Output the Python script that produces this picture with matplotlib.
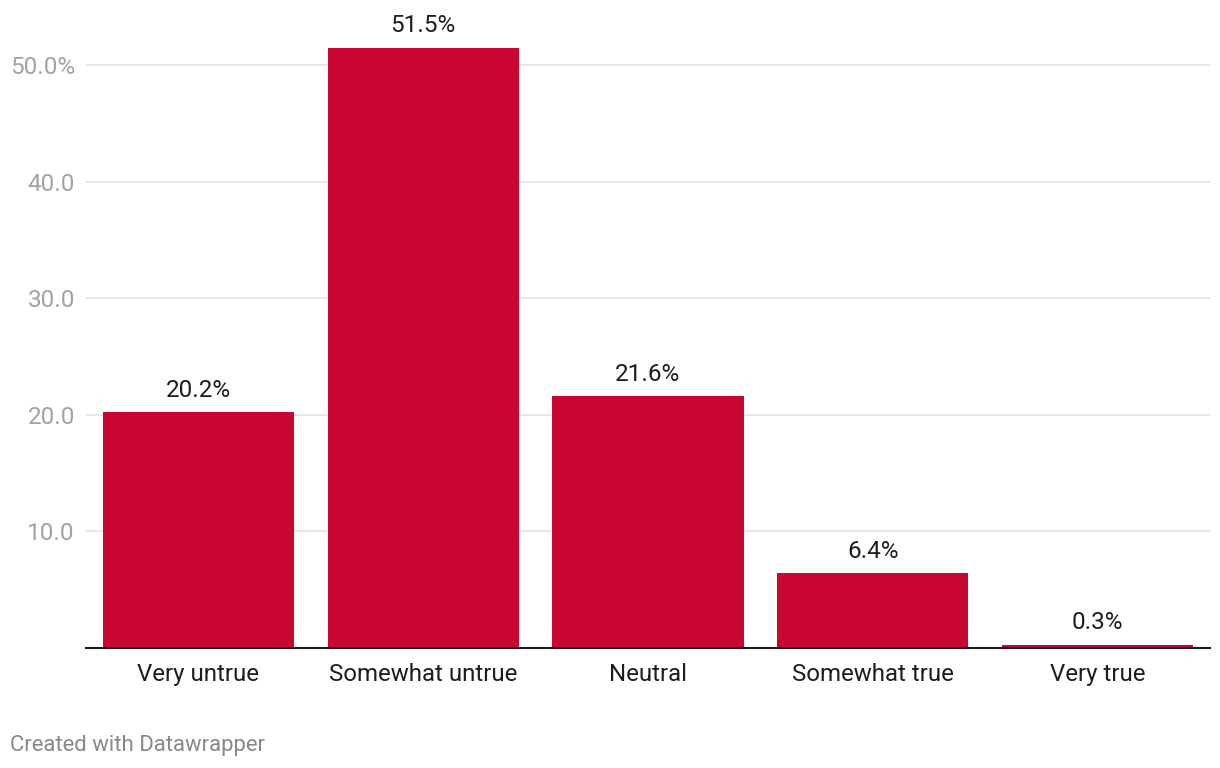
import matplotlib.pyplot as plt

plt.rcParams['font.family'] = ['Roboto', 'DejaVu Sans']

answers = ["Very untrue", "Somewhat untrue", "Neutral", "Somewhat true", "Very true"]
shares = [20.2, 51.5, 21.6, 6.4, 0.3]
yticks = [10, 20, 30, 40, 50]
ytick_labels = ["10.0", "20.0", "30.0", "40.0", "50.0%"]

fig = plt.figure(figsize=(12.2, 7.68), dpi=100)
# axes box placed in pixels: x 86..1210, baseline at y=648
px_per_unit = (648 - 65) / 50.0
top_px = 10
ax = fig.add_axes([86 / 1220, 1 - 648 / 768, (1210 - 86) / 1220, (648 - top_px) / 768])
ax.set_ylim(0, (648 - top_px) / px_per_unit)
ax.set_xlim(-0.5, len(answers) - 0.5)

pos = range(len(answers))
ax.bar(pos, shares, width=0.85, color='#c90532', zorder=3)

for p, v in zip(pos, shares):
    ax.annotate(f"{v}%", (p, v), xytext=(0, 7.5), textcoords='offset points',
                ha='center', va='bottom', fontsize=17.5, color='#1d1d1d')

ax.set_yticks(yticks)
ax.set_yticklabels(ytick_labels)
ax.grid(axis='y', color='#e3e3e3', linewidth=1.2, zorder=0)
ax.tick_params(axis='y', length=0, labelsize=17.5, labelcolor='#a3a3a3', pad=8)
ax.set_xticks(list(pos))
ax.set_xticklabels(answers)
ax.tick_params(axis='x', length=0, labelsize=17.3, labelcolor='#1d1d1d', pad=10.5)

for s in ['top', 'right', 'left']:
    ax.spines[s].set_visible(False)
ax.spines['bottom'].set_color('#1d1d1d')
ax.spines['bottom'].set_linewidth(1.5)
ax.spines['bottom'].set_zorder(4)

fig.text(10 / 1220, 1 - 745 / 768, "Created with Datawrapper", fontsize=15.9,
         color='#888888', va='center', ha='left')

fig.savefig('out.png', dpi=100)
